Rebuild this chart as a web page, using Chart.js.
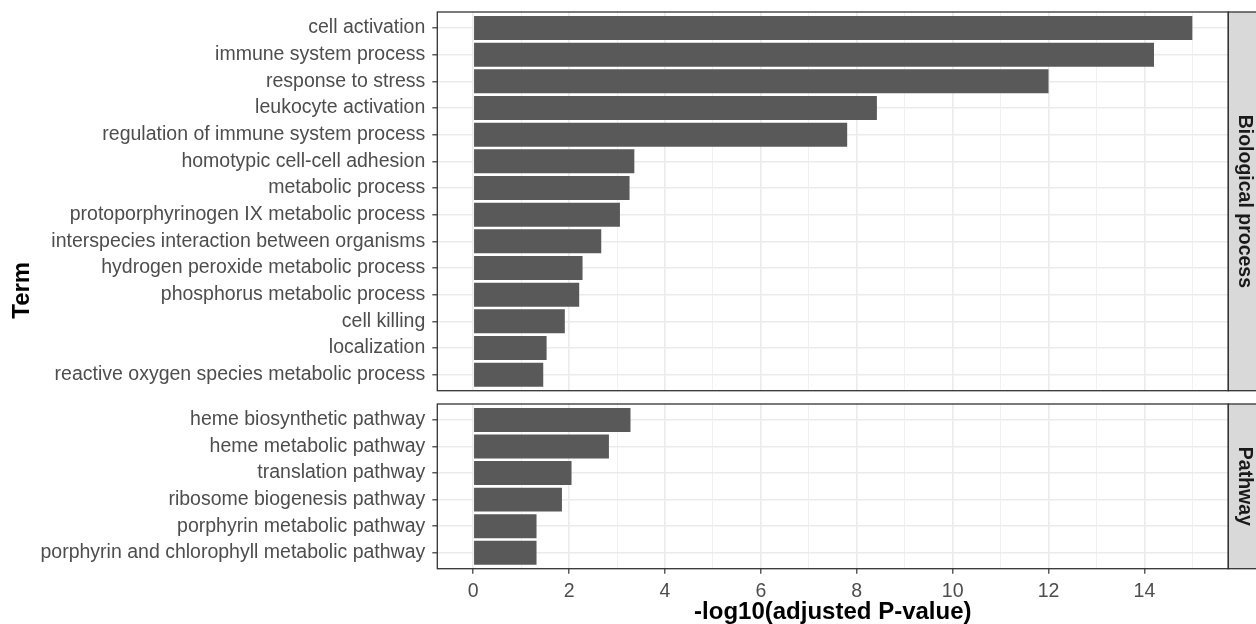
<!DOCTYPE html>
<html>
<head>
<meta charset="utf-8">
<script src="https://cdn.jsdelivr.net/npm/chart.js@4.4.1/dist/chart.umd.min.js"></script>
<style>
  html, body { margin: 0; padding: 0; background: #ffffff; }
  #wrap { position: relative; width: 1256px; height: 624px; overflow: hidden; }
  #wrap canvas { position: absolute; left: 0; top: 0; }
</style>
</head>
<body>
<div id="wrap">
  <canvas id="bpChart" width="1256" height="624" style="width:1256px;height:624px"></canvas>
  <canvas id="pwChart" width="1256" height="624" style="width:1256px;height:624px"></canvas>
</div>
<script>
// Enrichment terms, top to bottom, per facet
const bpTerms = [
  'cell activation',
  'immune system process',
  'response to stress',
  'leukocyte activation',
  'regulation of immune system process',
  'homotypic cell-cell adhesion',
  'metabolic process',
  'protoporphyrinogen IX metabolic process',
  'interspecies interaction between organisms',
  'hydrogen peroxide metabolic process',
  'phosphorus metabolic process',
  'cell killing',
  'localization',
  'reactive oxygen species metabolic process'
];
const bpValues = [15.0, 14.2, 12.0, 8.42, 7.80, 3.36, 3.26, 3.06, 2.67, 2.28, 2.21, 1.91, 1.53, 1.46];

const pwTerms = [
  'heme biosynthetic pathway',
  'heme metabolic pathway',
  'translation pathway',
  'ribosome biogenesis pathway',
  'porphyrin metabolic pathway',
  'porphyrin and chlorophyll metabolic pathway'
];
const pwValues = [3.28, 2.83, 2.05, 1.85, 1.32, 1.32];

const facetLabels = ['Biological process', 'Pathway'];
const xMajorTicks = [0, 2, 4, 6, 8, 10, 12, 14];
const xMinorTicks = [1, 3, 5, 7, 9, 11, 13, 15];
const xTitle = '-log10(adjusted P-value)';
const yTitle = 'Term';

// ---- shared look ----
const FONT = "'Liberation Sans', Arial, Helvetica, sans-serif";
Chart.defaults.font.family = FONT;
Chart.defaults.animation = false;
Chart.defaults.events = [];

const W = 1256, H = 624;
const PANEL_LEFT = 437.3, PANEL_RIGHT = 1228.3;
const X_MIN = -0.75, X_MAX = 15.75;
const GRID = '#ebebeb';
const DARK = '#333333';
const allXTicks = xMajorTicks.concat(xMinorTicks).sort((a, b) => a - b);
const isMajor = v => xMajorTicks.includes(v);

// scales keep exactly the room given to them by the layout padding
function noLabelPadding(s) {
  s.paddingTop = 0; s.paddingBottom = 0; s.paddingLeft = 0; s.paddingRight = 0;
}

function xScale(showAxis, axisHeight) {
  return {
    type: 'linear',
    position: 'bottom',
    min: X_MIN,
    max: X_MAX,
    offset: false,
    afterBuildTicks: s => { s.ticks = allXTicks.map(v => ({ value: v })); },
    afterFit: s => { s.height = axisHeight; noLabelPadding(s); },
    border: { display: false },
    grid: {
      offset: false,
      color: c => (c.tick && isMajor(c.tick.value)) ? GRID : '#f1f1f1',
      lineWidth: c => (c.tick && isMajor(c.tick.value)) ? 1.6 : 1.0,
      drawTicks: showAxis,
      tickLength: 5,
      tickWidth: 1.2,
      tickColor: c => (c.tick && isMajor(c.tick.value)) ? DARK : 'rgba(0,0,0,0)'
    },
    ticks: {
      display: showAxis,
      autoSkip: false,
      maxRotation: 0,
      padding: 6,
      color: '#4d4d4d',
      font: { size: 19.5 },
      callback: v => isMajor(v) ? String(v) : ''
    },
    title: showAxis ? {
      display: true,
      text: xTitle,
      color: '#000000',
      font: { size: 24, weight: 'bold', lineHeight: 1.0 },
      padding: { top: 0, bottom: 0 }
    } : { display: false }
  };
}

function yScale(terms) {
  return {
    type: 'linear',
    position: 'left',
    reverse: true,
    min: -0.6,
    max: terms.length - 0.4,
    offset: false,
    afterBuildTicks: s => { s.ticks = terms.map((_, i) => ({ value: i })); },
    afterFit: s => { s.width = PANEL_LEFT; noLabelPadding(s); },
    border: { display: false },
    grid: {
      offset: false,
      color: GRID,
      lineWidth: 1.6,
      tickLength: 5,
      tickWidth: 1.2,
      tickColor: DARK
    },
    ticks: {
      autoSkip: false,
      padding: 7,
      color: '#4d4d4d',
      font: { size: 19.5 },
      callback: v => terms[v]
    }
  };
}

// panel frame + facet strip on the right
function facetPlugin(label, extra) {
  return {
    id: 'facet_' + label.replace(/\s/g, '_'),
    afterDraw(chart) {
      const { ctx, chartArea: a } = chart;
      ctx.save();
      ctx.fillStyle = '#d9d9d9';
      ctx.fillRect(a.right, a.top, 60, a.bottom - a.top);
      ctx.strokeStyle = DARK;
      ctx.lineWidth = 1.3;
      ctx.strokeRect(a.right, a.top, 60, a.bottom - a.top);
      ctx.strokeRect(a.left, a.top, a.right - a.left, a.bottom - a.top);
      ctx.translate(1244.5, (a.top + a.bottom) / 2);
      ctx.rotate(Math.PI / 2);
      ctx.fillStyle = '#1a1a1a';
      ctx.font = 'bold 19.5px ' + FONT;
      ctx.textAlign = 'center';
      ctx.textBaseline = 'middle';
      ctx.fillText(label, 0, 0);
      ctx.restore();
      if (extra) extra(chart);
    }
  };
}

function barData(terms, values) {
  return {
    datasets: [{
      data: values.map((v, i) => ({ x: v, y: i })),
      backgroundColor: '#595959',
      borderWidth: 0,
      barPercentage: 0.9,
      categoryPercentage: 1.0
    }]
  };
}

const baseOptions = (terms, showX, axisH, pad) => ({
  responsive: false,
  indexAxis: 'y',
  layout: { padding: pad },
  plugins: { legend: { display: false }, tooltip: { enabled: false } },
  scales: { x: xScale(showX, axisH), y: yScale(terms) }
});

// Biological process facet (top panel)
new Chart(document.getElementById('bpChart'), {
  type: 'bar',
  data: barData(bpTerms, bpValues),
  options: baseOptions(bpTerms, false, 0,
    { left: 0, right: W - PANEL_RIGHT, top: 12, bottom: H - 390.7 }),
  plugins: [facetPlugin(facetLabels[0])]
});

// Pathway facet (bottom panel) with the shared x axis and the y title
new Chart(document.getElementById('pwChart'), {
  type: 'bar',
  data: barData(pwTerms, pwValues),
  options: baseOptions(pwTerms, true, H - 568.7,
    { left: 0, right: W - PANEL_RIGHT, top: 404, bottom: 0 }),
  plugins: [facetPlugin(facetLabels[1], chart => {
    const ctx = chart.ctx;
    ctx.save();
    ctx.translate(22.5, 290.3);
    ctx.rotate(-Math.PI / 2);
    ctx.fillStyle = '#000000';
    ctx.font = 'bold 24px ' + FONT;
    ctx.textAlign = 'center';
    ctx.textBaseline = 'middle';
    ctx.fillText(yTitle, 0, 0);
    ctx.restore();
  })]
});
</script>
</body>
</html>
